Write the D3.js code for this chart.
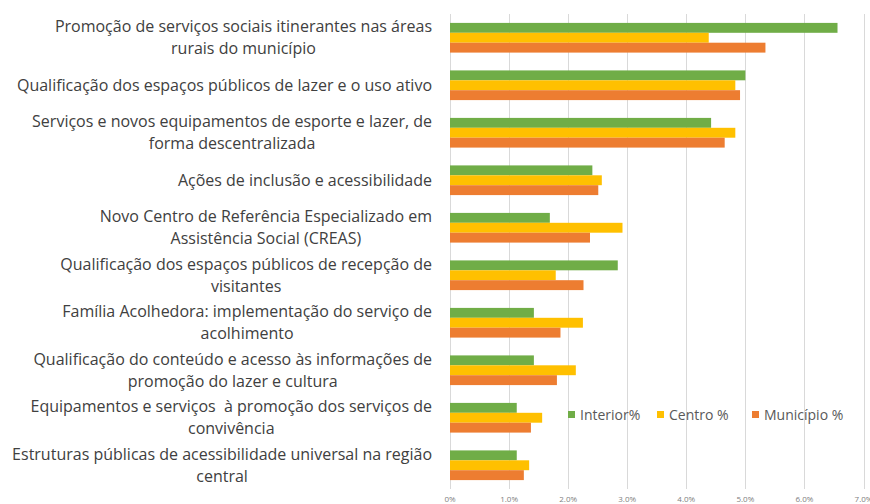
<!DOCTYPE html>
<html lang="pt">
<head>
    <meta charset="utf-8">
    <title>Serviços sociais - Interior, Centro, Município</title>
    <script src="https://d3js.org/d3.v7.min.js"></script>
    <style>
        body {
            margin: 0;
            background: #ffffff;
        }
        svg {
            display: block;
            font-family: "Open Sans", sans-serif;
        }
        .grid line {
            stroke: #d9d9d9;
            stroke-width: 1px;
        }
        .tick-label {
            font-size: 8px;
            fill: #808080;
        }
        .cat-label {
            font-size: 16px;
            fill: #404040;
            white-space: pre;
        }
        .legend text {
            font-size: 14px;
            fill: #595959;
        }
    </style>
</head>
<body>
    <svg id="chart" width="870" height="504"></svg>

    <script>
        const width = 870, height = 504;

        // Categories, top to bottom (each line of a label on its own)
        const categories = [
            ["Promoção de serviços sociais itinerantes nas áreas", "rurais do município"],
            ["Qualificação dos espaços públicos de lazer e o uso ativo"],
            ["Serviços e novos equipamentos de esporte e lazer, de", "forma descentralizada"],
            ["Ações de inclusão e acessibilidade"],
            ["Novo Centro de Referência Especializado em", "Assistência Social (CREAS)"],
            ["Qualificação dos espaços públicos de recepção de", "visitantes"],
            ["Família Acolhedora: implementação do serviço de", "acolhimento"],
            ["Qualificação do conteúdo e acesso às informações de", "promoção do lazer e cultura"],
            ["Equipamentos e serviços  à promoção dos serviços de", "convivência"],
            ["Estruturas públicas de acessibilidade universal na região", "central"]
        ];

        // Values in percent
        const interior  = [6.56, 5.00, 4.42, 2.41, 1.69, 2.84, 1.42, 1.42, 1.13, 1.13];
        const centro    = [4.38, 4.83, 4.83, 2.57, 2.92, 1.79, 2.25, 2.13, 1.56, 1.34];
        const municipio = [5.34, 4.91, 4.65, 2.51, 2.37, 2.26, 1.87, 1.81, 1.37, 1.25];

        const seriesNames = ["Interior%", "Centro %", "Município %"];
        const seriesColors = ["#70ad47", "#ffc000", "#ed7d31"];
        const seriesValues = [interior, centro, municipio];

        const tickValues = [0, 1, 2, 3, 4, 5, 6, 7];
        const tickLabels = ["0%", "1.0%", "2.0%", "3.0%", "4.0%", "5.0%", "6.0%", "7.0%"];

        const plot = { left: 450, right: 863.5, top: 14, bottom: 489 };

        const svg = d3.select("#chart");

        const x = d3.scaleLinear()
            .domain([0, 7])
            .range([plot.left, plot.right]);

        const ids = categories.map((d, i) => i);
        const y = d3.scaleBand()
            .domain(ids)
            .range([plot.top, plot.bottom])
            .paddingInner(0.375)
            .paddingOuter(0.1875);

        const ySub = d3.scaleBand()
            .domain(seriesNames)
            .range([0, y.bandwidth()]);

        // Gridlines
        svg.append("g")
            .attr("class", "grid")
            .selectAll("line")
            .data(tickValues)
            .enter().append("line")
            .attr("x1", d => Math.round(x(d)) + 0.5)
            .attr("x2", d => Math.round(x(d)) + 0.5)
            .attr("y1", plot.top)
            .attr("y2", plot.bottom);

        // Tick labels
        svg.append("g")
            .selectAll("text")
            .data(tickValues)
            .enter().append("text")
            .attr("class", "tick-label")
            .attr("x", d => x(d))
            .attr("y", 502)
            .attr("text-anchor", "middle")
            .text((d, i) => tickLabels[i]);

        // Bars
        const rows = ids.map(i => ({
            id: i,
            values: seriesNames.map((s, j) => ({ series: s, color: seriesColors[j], value: seriesValues[j][i] }))
        }));

        svg.append("g")
            .selectAll("g")
            .data(rows)
            .enter().append("g")
            .attr("transform", d => `translate(0,${y(d.id)})`)
            .selectAll("rect")
            .data(d => d.values)
            .enter().append("rect")
            .attr("x", x(0))
            .attr("y", d => ySub(d.series))
            .attr("width", d => x(d.value) - x(0))
            .attr("height", ySub.bandwidth())
            .attr("fill", d => d.color);

        // Category labels: block right-aligned, lines centred within block
        const labelRight = 432;
        const lineHeight = 22;
        categories.forEach((lines, i) => {
            const cy = y(i) + y.bandwidth() / 2;
            const g = svg.append("g");
            const texts = lines.map((line, k) => g.append("text")
                .attr("class", "cat-label")
                .attr("y", cy + (k - (lines.length - 1) / 2) * lineHeight)
                .attr("dy", "0.35em")
                .attr("text-anchor", "middle")
                .text(line));
            const w = d3.max(texts, t => t.node().getComputedTextLength());
            texts.forEach(t => t.attr("x", labelRight - w / 2));
        });

        // Legend
        const legend = svg.append("g").attr("class", "legend");
        const legendX = [568, 657, 752];
        seriesNames.forEach((s, i) => {
            legend.append("rect")
                .attr("x", legendX[i])
                .attr("y", 411)
                .attr("width", 7)
                .attr("height", 7)
                .attr("fill", seriesColors[i]);
            legend.append("text")
                .attr("x", legendX[i] + 12)
                .attr("y", 415)
                .attr("dy", "0.35em")
                .text(s);
        });
    </script>
</body>
</html>
